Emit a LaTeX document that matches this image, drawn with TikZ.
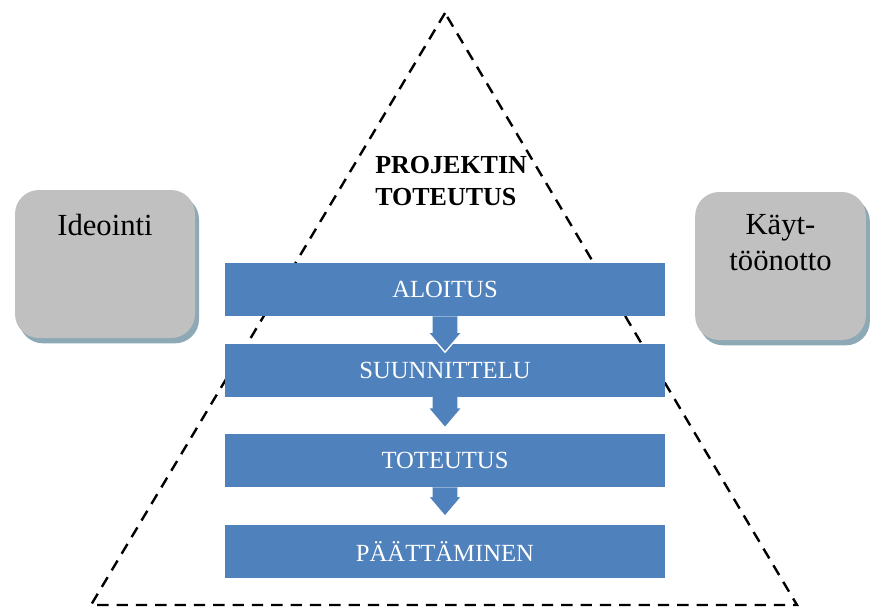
\documentclass[tikz,border=0pt]{standalone}
\usepackage{fontspec}
\setmainfont{Liberation Serif}
\usepackage{tikz}
\usetikzlibrary{positioning,calc,shadows}
\definecolor{phaseblue}{HTML}{4F81BD}
\definecolor{sidegray}{HTML}{C0C0C0}
\definecolor{shadowblue}{HTML}{8EA9B6}

\begin{document}
\begin{tikzpicture}[
      x=0.75pt, y=-0.75pt,
      phase/.style   = {fill=phaseblue, minimum width=330pt, minimum height=39.75pt,
                        inner sep=0pt, text=white, font=\rmfamily\fontsize{18.5}{22}\selectfont},
      sidebox/.style = {fill=sidegray, rounded corners=18pt, minimum height=111pt,
                        drop shadow={shadow xshift=3pt, shadow yshift=-4pt,
                                     fill=shadowblue, opacity=1}},
      sidetext/.style = {anchor=north, align=center, inner sep=0pt,
                         font=\rmfamily\fontsize{23}{27}\selectfont},
      frame/.style   = {line width=1.8pt, dash pattern=on 8.5pt off 6pt},
    ]
    \useasboundingbox (0,0) rectangle (870,610);

    % dashed triangle
    \coordinate (apex)  at (445,13);
    \coordinate (left)  at (91,605);
    \coordinate (right) at (797,605);
    \draw[frame] (apex) -- (left) -- (right) -- cycle;

    \node[anchor=north west, align=left, inner sep=0pt,
          font=\rmfamily\fontsize{19.5}{24}\selectfont\bfseries] (title) at (375,156)
          {PROJEKTIN\\TOTEUTUS};

    % side boxes
    \node[sidebox, minimum width=135pt] (ideo) at (105,264) {};
    \node[sidetext] (ideotext) at ($(ideo.north)+(0,24)$) {Ideointi};
    \node[sidebox, minimum width=128pt] (kaytto) at (780.5,266) {};
    \node[sidetext] (kayttotext) at ($(kaytto.north)+(0,22)$) {Käyt-\\töönotto};

    % phases
    \node[phase] (aloitus) at (445,289.5) {ALOITUS};
    \node[phase, below=20.25pt of aloitus]   (suunn)    {SUUNNITTELU};
    \node[phase, below=27.75pt of suunn]     (toteutus) {TOTEUTUS};
    \node[phase, below=27.75pt of toteutus]  (paatt)    {PÄÄTTÄMINEN};

    % block arrows between phases
    \foreach \a/\b/\d in {aloitus/suunn/9, suunn/toteutus/-6, toteutus/paatt/-8} {
      \coordinate (tip) at ($(\b.north)+(0,\d)$);
      \fill[phaseblue] ($(\a.south)+(-13,0)$) -- ($(tip)+(-13,-20)$) -- ($(tip)+(-17,-20)$)
        -- (tip) -- ($(tip)+(17,-20)$) -- ($(tip)+(13,-20)$) -- ($(\a.south)+(13,0)$) -- cycle;
      \draw[white, line width=1pt] ($(\a.south)+(-13,0)$) -- ($(tip)+(-13,-20)$)
        -- ($(tip)+(-17,-20)$) -- (tip) -- ($(tip)+(17,-20)$) -- ($(tip)+(13,-20)$)
        -- ($(\a.south)+(13,0)$);
    }
  \end{tikzpicture}
\end{document}
